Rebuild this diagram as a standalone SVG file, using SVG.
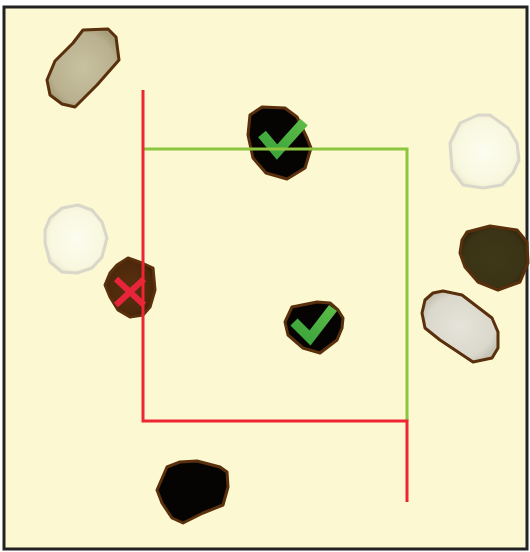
<svg xmlns="http://www.w3.org/2000/svg" width="530" height="552" viewBox="0 0 530 552">
<defs>
<radialGradient id="gTan" cx="50%" cy="50%" r="55%"><stop offset="0" stop-color="#c9c2a0"/><stop offset="0.8" stop-color="#b8b08e"/><stop offset="1" stop-color="#a69d7a"/></radialGradient>
<radialGradient id="gWhite" cx="50%" cy="50%" r="55%"><stop offset="0" stop-color="#fdfdf0"/><stop offset="0.8" stop-color="#f8f7de"/><stop offset="1" stop-color="#e9e8c8"/></radialGradient>
<radialGradient id="gGray" cx="50%" cy="50%" r="55%"><stop offset="0" stop-color="#e6e4da"/><stop offset="0.8" stop-color="#dad8cc"/><stop offset="1" stop-color="#c6c3b4"/></radialGradient>
<radialGradient id="gOlive" cx="50%" cy="50%" r="55%"><stop offset="0" stop-color="#3e3718"/><stop offset="0.8" stop-color="#3a3315"/><stop offset="1" stop-color="#2b2510"/></radialGradient>
<radialGradient id="gBrown" cx="50%" cy="50%" r="55%"><stop offset="0" stop-color="#5a300e"/><stop offset="0.8" stop-color="#4c280b"/><stop offset="1" stop-color="#351a04"/></radialGradient>
<linearGradient id="gCheck" x1="0" y1="1" x2="1" y2="0"><stop offset="0" stop-color="#3aa33a"/><stop offset="1" stop-color="#5cbb48"/></linearGradient>
</defs>
<style>
.dark{stroke:#5a2f0c;stroke-width:3;stroke-linejoin:round}
.pale{stroke:#d9d7c9;stroke-width:3;stroke-linejoin:round}
.red{stroke:#ee2532;stroke-width:3;fill:none}
.green{stroke:#8cc63f;stroke-width:3;fill:none}
.check{stroke:url(#gCheck);stroke-width:10;fill:none;stroke-linejoin:miter}
.cross{stroke:#e8243a;stroke-width:6;fill:none}
</style>
<rect x="4" y="7" width="523" height="542" fill="#fbf8d2" stroke="#222" stroke-width="3"/>
<g id="cell-tan"><polygon class="dark" fill="url(#gTan)" points="83,30 108,29 116,37 119,60 97,85 75,107 62,104 50,95 47,80 55,61 73,43"/></g>
<g id="cell-white-right"><polygon class="pale" fill="url(#gWhite)" points="450,143 460,123 478,115 490,115 508,128 517,143 519,160 513,173 502,185 483,188 463,185 452,170"/></g>
<g id="cell-olive"><polygon class="dark" fill="url(#gOlive)" points="462,240 467,232 490,226 517,230 527,242 528,263 520,282 498,290 478,282 465,267 460,253"/></g>
<g id="cell-gray"><polygon class="dark" fill="url(#gGray)" points="433,293 443,291 462,295 492,318 498,332 498,348 492,358 473,362 440,340 425,328 422,313 425,300"/></g>
<g id="cell-white-left"><polygon class="pale" fill="url(#gWhite)" points="50,218 62,208 78,205 92,210 102,222 107,238 102,257 92,268 77,273 62,272 50,262 45,243 45,230"/></g>
<g id="cell-black-bottom"><polygon class="dark" fill="#050403" points="167,467 180,462 197,461 220,467 227,472 228,487 223,505 203,513 183,523 172,518 162,503 157,490"/></g>
<g id="cell-black-top"><polygon class="dark" fill="#050403" points="262,107 285,108 297,117 307,138 311,148 305,168 287,179 266,173 253,158 248,135 250,115"/>
<polyline class="check" points="262,134 277,152 304,122"/></g>
<g id="cell-brown"><polygon class="dark" stroke="#3e1f06" fill="url(#gBrown)" points="117,265 128,258 142,263 153,268 155,290 150,307 143,315 130,317 118,310 110,297 105,285 110,273"/>
<path class="cross" d="M116,279 L144,305 M144,279 L116,305"/></g>
<g id="cell-black-mid"><polygon class="dark" fill="#050403" points="292,307 317,302 330,303 338,310 343,318 342,328 337,340 320,353 303,348 288,335 285,322"/>
<polyline class="check" points="294,322 310,338 333,308"/></g>
<g id="connectors">
<polyline class="green" points="143,149 407,149 407,421"/>
<polyline class="red" points="143,90 143,421 407,421 407,502"/>
</g>
</svg>
